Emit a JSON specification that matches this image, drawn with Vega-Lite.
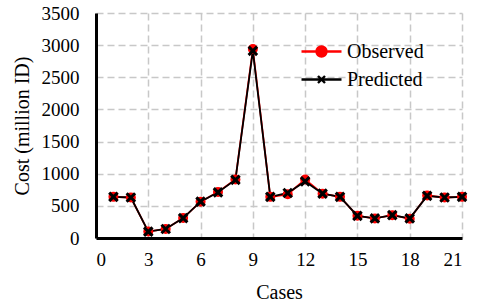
{
  "$schema": "https://vega.github.io/schema/vega-lite/v6.json",
  "autosize": {"type": "none"},
  "width": 366,
  "height": 225,
  "padding": {"left": 96, "top": 13, "right": 18, "bottom": 64},
  "background": "white",
  "config": {
    "view": {"stroke": null},
    "font": "Times New Roman",
    "axis": {
      "labelFont": "Times New Roman",
      "labelFontSize": 19,
      "labelColor": "black",
      "titleFont": "Times New Roman",
      "titleFontSize": 20,
      "titleFontWeight": "normal",
      "titleColor": "black",
      "domainColor": "black",
      "domainWidth": 3,
      "ticks": false,
      "gridColor": "#c8c8c8",
      "gridDash": [7, 4],
      "gridWidth": 1.5
    },
    "legend": {"labelFont": "Times New Roman"}
  },
  "data": {
    "values": [
      {"case": 1, "series": "Observed", "cost": 640},
      {"case": 2, "series": "Observed", "cost": 630},
      {"case": 3, "series": "Observed", "cost": 100},
      {"case": 4, "series": "Observed", "cost": 140},
      {"case": 5, "series": "Observed", "cost": 310},
      {"case": 6, "series": "Observed", "cost": 565},
      {"case": 7, "series": "Observed", "cost": 715},
      {"case": 8, "series": "Observed", "cost": 910},
      {"case": 9, "series": "Observed", "cost": 2940},
      {"case": 10, "series": "Observed", "cost": 640},
      {"case": 11, "series": "Observed", "cost": 680},
      {"case": 12, "series": "Observed", "cost": 910},
      {"case": 13, "series": "Observed", "cost": 690},
      {"case": 14, "series": "Observed", "cost": 640},
      {"case": 15, "series": "Observed", "cost": 345},
      {"case": 16, "series": "Observed", "cost": 305},
      {"case": 17, "series": "Observed", "cost": 355},
      {"case": 18, "series": "Observed", "cost": 300},
      {"case": 19, "series": "Observed", "cost": 660},
      {"case": 20, "series": "Observed", "cost": 630},
      {"case": 21, "series": "Observed", "cost": 640},
      {"case": 1, "series": "Predicted", "cost": 640},
      {"case": 2, "series": "Predicted", "cost": 630},
      {"case": 3, "series": "Predicted", "cost": 100},
      {"case": 4, "series": "Predicted", "cost": 140},
      {"case": 5, "series": "Predicted", "cost": 310},
      {"case": 6, "series": "Predicted", "cost": 565},
      {"case": 7, "series": "Predicted", "cost": 710},
      {"case": 8, "series": "Predicted", "cost": 905},
      {"case": 9, "series": "Predicted", "cost": 2910},
      {"case": 10, "series": "Predicted", "cost": 640},
      {"case": 11, "series": "Predicted", "cost": 700},
      {"case": 12, "series": "Predicted", "cost": 880},
      {"case": 13, "series": "Predicted", "cost": 690},
      {"case": 14, "series": "Predicted", "cost": 640},
      {"case": 15, "series": "Predicted", "cost": 345},
      {"case": 16, "series": "Predicted", "cost": 305},
      {"case": 17, "series": "Predicted", "cost": 355},
      {"case": 18, "series": "Predicted", "cost": 305},
      {"case": 19, "series": "Predicted", "cost": 655},
      {"case": 20, "series": "Predicted", "cost": 630},
      {"case": 21, "series": "Predicted", "cost": 640}
    ]
  },
  "encoding": {
    "x": {
      "field": "case", "type": "quantitative", "title": "Cases",
      "scale": {"domain": [0, 21], "nice": false, "zero": false},
      "axis": {"values": [0, 3, 6, 9, 12, 15, 18, 21], "format": "d", "labelPadding": 12, "titlePadding": 13}
    },
    "y": {
      "field": "cost", "type": "quantitative", "title": "Cost (million ID)",
      "scale": {"domain": [0, 3500], "nice": false},
      "axis": {"values": [0, 500, 1000, 1500, 2000, 2500, 3000, 3500], "format": "d", "labelPadding": 17, "titlePadding": 9}
    }
  },
  "layer": [
    {
      "mark": {"type": "line", "strokeWidth": 1.8},
      "encoding": {
        "color": {
          "field": "series", "type": "nominal",
          "scale": {"domain": ["Observed", "Predicted"], "range": ["#ff0000", "#000000"]},
          "legend": {
            "orient": "none", "legendX": 214, "legendY": 27, "title": null, "padding": 0,
            "labelFont": "Times New Roman", "labelFontSize": 20, "labelColor": "black",
            "labelOffset": 14, "symbolSize": 400, "symbolStrokeWidth": 2, "rowPadding": 6,
            "encode": {
              "symbols": {
                "update": {
                  "shape": {"signal": "datum.value === 'Observed' ? 'M-2,0L2,0M-0.5,0A0.5,0.5 0 1,0 0.5,0A0.5,0.5 0 1,0 -0.5,0Z' : 'M-2,0L2,0M-0.35,-0.35L0.35,0.35M-0.35,0.35L0.35,-0.35'"},
                  "fill": {"signal": "datum.value === 'Observed' ? '#ff0000' : 'transparent'"},
                  "stroke": {"signal": "datum.value === 'Observed' ? '#ff0000' : '#000000'"},
                  "strokeWidth": {"value": 2.4}
                }
              }
            }
          }
        }
      }
    },
    {
      "transform": [{"filter": "datum.series === 'Observed'"}],
      "mark": {"type": "point", "shape": "circle", "filled": true, "size": 100, "color": "#ff0000", "opacity": 1}
    },
    {
      "transform": [{"filter": "datum.series === 'Predicted'"}],
      "mark": {"type": "point", "shape": "M-1,-1L1,1M-1,1L1,-1", "filled": false, "size": 72, "color": "#000000", "strokeWidth": 3, "opacity": 1}
    }
  ]
}
